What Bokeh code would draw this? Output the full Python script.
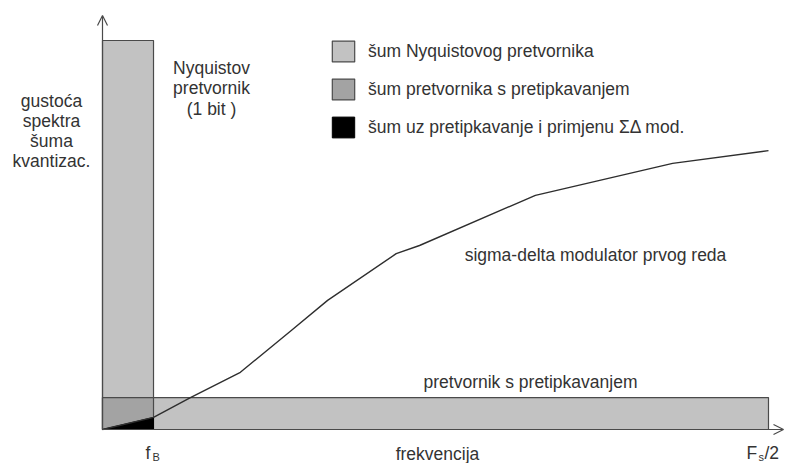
from bokeh.plotting import figure
from bokeh.models import Range1d, Label, Arrow, OpenHead, Legend, LegendItem
from bokeh.embed import file_html
from bokeh.resources import INLINE

# ---- data (frequency normalised so that Fs/2 = 1, noise density normalised to Nyquist level = 1)
f_B = 0.0766
nyquist_level = 1.0
oversampled_level = 0.082
sd_freq = [0.0, 0.0766, 0.132, 0.207, 0.283, 0.338, 0.441, 0.476, 0.650, 0.856, 1.0]
sd_noise = [0.0, 0.031, 0.082, 0.147, 0.254, 0.332, 0.452, 0.473, 0.602, 0.684, 0.717]

legend_labels = ["šum Nyquistovog pretvornika",
                 "šum pretvornika s pretipkavanjem",
                 "šum uz pretipkavanje i primjenu ΣΔ mod."]

W, H = 787, 463
PX_X0, PX_Y0 = 102, 429     # pixel position of origin
SX, SY = 666.0, 389.0       # pixels per data unit

p = figure(width=W, height=H, output_backend="svg", toolbar_location=None,
           x_range=Range1d(-PX_X0 / SX, (W - PX_X0) / SX),
           y_range=Range1d(-(H - PX_Y0) / SY, PX_Y0 / SY),
           min_border=0)
p.axis.visible = False
p.grid.visible = False
p.outline_line_color = None
p.background_fill_color = "white"

LIGHT = "#c2c2c2"
MID = "#a3a3a3"
EDGE = "#4a4a4a"
TXT = "#333333"
FONT = "Liberation Sans"
FS = "17.5px"

nyq = p.quad(left=[0], right=[f_B], bottom=[0], top=[nyquist_level],
             fill_color=LIGHT, line_color=EDGE, line_width=1.2)
p.quad(left=[0], right=[1.0], bottom=[0], top=[oversampled_level],
       fill_color=LIGHT, line_color=EDGE, line_width=1.2)
ovs = p.quad(left=[0], right=[f_B], bottom=[0], top=[oversampled_level],
             fill_color=MID, line_color=EDGE, line_width=1.2)
sd = p.patch(x=[0, f_B, f_B], y=[0, sd_noise[1], 0], fill_color="black", line_color="black")
p.line(sd_freq, sd_noise, line_color="#2e2e2e", line_width=1.4)

# axes with arrows
p.add_layout(Arrow(end=OpenHead(size=10, line_color=EDGE, line_width=1.2),
                   x_start=0, y_start=0, x_end=0, y_end=414 / SY,
                   line_color=EDGE, line_width=1.2))
p.add_layout(Arrow(end=OpenHead(size=10, line_color=EDGE, line_width=1.2),
                   x_start=0, y_start=0, x_end=681 / SX, y_end=0,
                   line_color=EDGE, line_width=1.2))

legend = Legend(items=[LegendItem(label=legend_labels[0], renderers=[nyq]),
                       LegendItem(label=legend_labels[1], renderers=[ovs]),
                       LegendItem(label=legend_labels[2], renderers=[sd])],
                location=(329, 323), glyph_width=28, glyph_height=26, spacing=12,
                label_standoff=11, padding=0, margin=0,
                border_line_alpha=0, background_fill_alpha=0,
                label_text_font=FONT, label_text_font_size=FS, label_text_color=TXT)
p.add_layout(legend)


def lab(x, y, text, size=FS, align="center", baseline="middle"):
    p.add_layout(Label(x=x, y=y, text=text, text_font=FONT, text_font_size=size,
                       text_color=TXT, text_align=align, text_baseline=baseline))


def px(ix, iy):
    return (ix - PX_X0) / SX, (PX_Y0 - iy) / SY


for i, t in enumerate(["gustoća", "spektra", "šuma", "kvantizac."]):
    lab(*px(51, 100 + 20 * i), t)
for i, t in enumerate(["Nyquistov", "pretvornik", "(1 bit )"]):
    lab(*px(211, 67 + 20.5 * i), t)

lab(*px(595, 254), "sigma-delta modulator prvog reda")
lab(*px(530, 381), "pretvornik s pretipkavanjem")
lab(*px(437, 453), "frekvencija")
lab(*px(145, 452), "f", align="left")
lab(*px(152, 456), "B", size="11px", align="left")
lab(*px(746, 452), "F", align="left")
lab(*px(758, 456), "s", size="11px", align="left")
lab(*px(764, 452), "/2", align="left")

open("out.html", "w").write(file_html(p, INLINE))
